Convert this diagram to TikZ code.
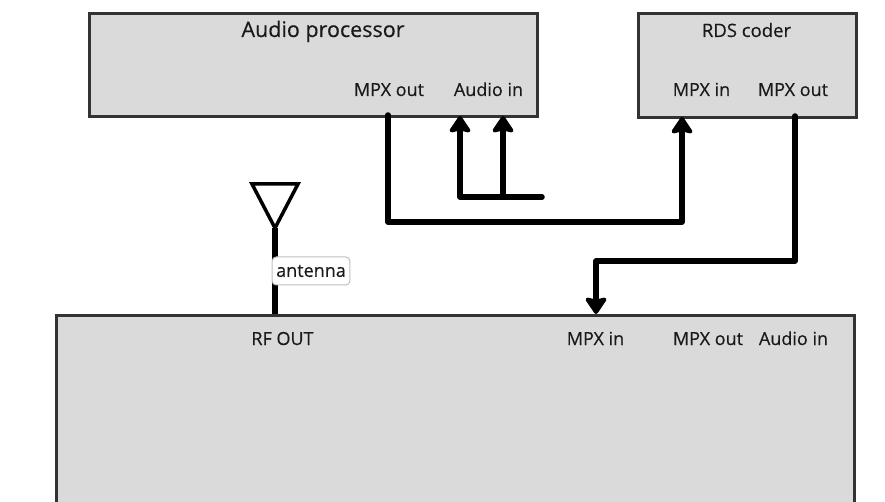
\documentclass[tikz,border=0pt]{standalone}
\usepackage{fontspec}
\setmainfont{Open Sans}[FakeBold=0.4]
\usetikzlibrary{arrows.meta}
\definecolor{boxfill}{HTML}{DADADA}
\definecolor{boxline}{HTML}{333333}
\definecolor{txt}{HTML}{1A1A1A}
\tikzset{
  box/.style={draw=boxline,fill=boxfill,line width=3pt,rectangle,inner sep=0pt,anchor=north west},
  title/.style={inner sep=0pt,anchor=base,text=txt,font=\fontsize{21.5}{25}\selectfont},
  smalltitle/.style={inner sep=0pt,anchor=base,text=txt,font=\fontsize{18.5}{21}\selectfont},
  port/.style={inner sep=0pt,anchor=base,text=txt,font=\fontsize{18}{21}\selectfont},
  wire/.style={line width=5.5pt,line cap=round,line join=round},
  arr/.style={wire,-{Stealth[round,inset=3pt,length=19pt,width=25pt]}},
  tag/.style={draw=black!25,line width=1pt,fill=white,rounded corners=4pt,inner xsep=4pt,inner ysep=5pt,minimum height=28pt,text=txt,font=\fontsize{18}{21}\selectfont}
}
\begin{document}
\begin{tikzpicture}[x=1pt,y=-1pt]
\useasboundingbox (0,0) rectangle (885,502);
\clip (0,0) rectangle (885,502);
% boxes
\node[box,minimum width=448pt,minimum height=103pt] (ap) at (88,12) {};
\node[box,minimum width=218pt,minimum height=104pt] (rds) at (637,12) {};
\node[box,minimum width=798pt,minimum height=230pt] (tx) at (55,314) {};
% texts
\node[title] (aptitle) at (323,37) {Audio processor};
\node[port] (apmpxout) at (389,96) {MPX out};
\node[port] (apaudioin) at (488.5,96) {Audio in};
\node[smalltitle] (rdstitle) at (746.5,37) {RDS coder};
\node[port] (rdsmpxin) at (701.5,96) {MPX in};
\node[port] (rdsmpxout) at (793,96) {MPX out};
\node[port] (txrf) at (282.5,345) {RF OUT};
\node[port] (txmpxin) at (595.5,345) {MPX in};
\node[port] (txmpxout) at (708,345) {MPX out};
\node[port] (txaudioin) at (793.5,345) {Audio in};
% port points
\coordinate (pApOut) at (388,115);
\coordinate (pApIn1) at (460,116);
\coordinate (pApIn2) at (503,116);
\coordinate (pRdsIn) at (682,117);
\coordinate (pRdsOut) at (795,116);
\coordinate (pTxIn) at (596,314);
\coordinate (feed) at (542,197);
% connectors
\draw[arr] (pApOut) -- (388,222) -| (pRdsIn);
\draw[arr] (feed) -| (pApIn1);
\draw[arr] (pApIn2 |- feed) -- (pApIn2);
\draw[arr] (pRdsOut) -- (795,261) -| (pTxIn);
% antenna
\coordinate (anttip) at (275,228);
\draw[line width=3.5pt,line join=miter] (252,184) -- (298,184) -- (anttip) -- cycle;
\draw[wire,line cap=butt] (anttip) -- (anttip |- tx.north);
\node[tag] (antlabel) at (311,271) {antenna};
\end{tikzpicture}
\end{document}
